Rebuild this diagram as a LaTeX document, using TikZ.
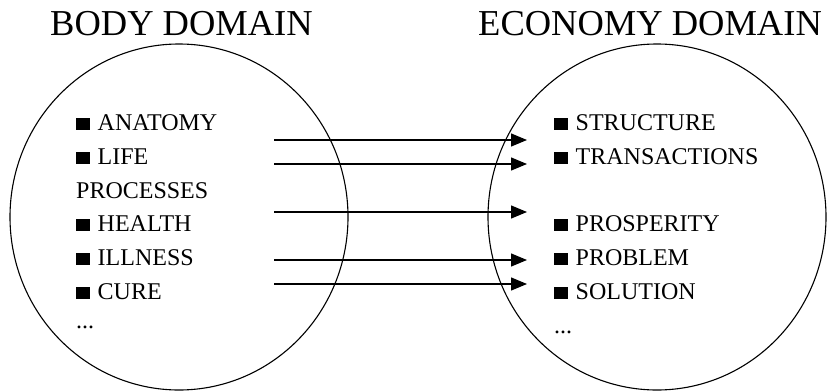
\documentclass[tikz,border=0pt]{standalone}
\usepackage{fontspec}
\setmainfont{Liberation Serif}
\usetikzlibrary{arrows.meta,shapes.geometric}
\newcommand{\blsq}{\rule{13.5pt}{12pt}\hspace{8pt}}
\begin{document}
\begin{tikzpicture}[x=1pt,y=-1pt,
  item/.style={anchor=base west, inner sep=0pt, font=\fontsize{24}{24}\selectfont},
  ttl/.style={anchor=base west, inner sep=0pt, font=\fontsize{36.5}{36.5}\selectfont},
  dom/.style={draw, line width=1.1pt},
  mapping/.style={line width=1.3pt, -{Triangle[length=16pt,width=13pt]}}]
\useasboundingbox (0,0) rectangle (827,391);
% domains
\node[dom, ellipse, minimum width=338pt, minimum height=346pt, inner sep=0pt] (body) at (179,217) {};
\node[dom, ellipse, minimum width=338pt, minimum height=346pt, inner sep=0pt] (econ) at (657,217) {};
\node[ttl] (tbody) at (50,35) {BODY DOMAIN};
\node[ttl] (tecon) at (478,35) {ECONOMY DOMAIN};
% left items
\node[item] (lA) at (76,130) {\blsq ANATOMY};
\node[item] (lB) at (76,164) {\blsq LIFE};
\node[item] (lC) at (76,198) {PROCESSES};
\node[item] (lD) at (76,231) {\blsq HEALTH};
\node[item] (lE) at (76,265) {\blsq ILLNESS};
\node[item] (lF) at (76,299) {\blsq CURE};
\node[item] (lG) at (76,328) {...};
% right items
\node[item] (rA) at (554,130) {\blsq STRUCTURE};
\node[item] (rB) at (554,164) {\blsq TRANSACTIONS};
\node[item] (rC) at (554,231) {\blsq PROSPERITY};
\node[item] (rD) at (554,265) {\blsq PROBLEM};
\node[item] (rE) at (554,299) {\blsq SOLUTION};
\node[item] (rF) at (554,333) {...};
% mappings
\coordinate (s1) at (274,140); \coordinate (t1) at (527,140);
\coordinate (s2) at (274,164); \coordinate (t2) at (527,164);
\coordinate (s3) at (274,212); \coordinate (t3) at (527,212);
\coordinate (s4) at (274,260); \coordinate (t4) at (527,260);
\coordinate (s5) at (274,284); \coordinate (t5) at (527,284);
\foreach \i in {1,...,5} \draw[mapping] (s\i) -- (t\i);
\end{tikzpicture}
\end{document}
